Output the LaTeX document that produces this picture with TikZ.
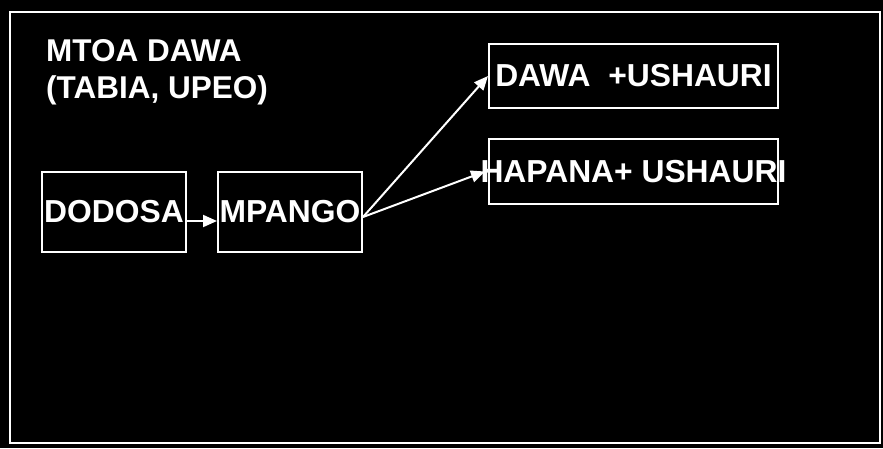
\documentclass[tikz,border=0pt]{standalone}
\usepackage{fontspec}
\setmainfont{Liberation Sans}
\usetikzlibrary{arrows.meta}
\tikzset{>={Triangle[length=14pt,width=12pt]}}
\begin{document}
\begin{tikzpicture}[x=1pt,y=1pt,
    box/.style={draw=white,line width=2pt,inner sep=0pt,minimum width=144pt,minimum height=80pt,text=white,font=\bfseries\fontsize{31.8}{36}\selectfont},
    wide/.style={box,minimum width=289pt,minimum height=64pt},
    title/.style={anchor=base west,inner sep=0pt,text=white,font=\bfseries\fontsize{31.5}{36}\selectfont},
    link/.style={->,draw=white,fill=white,line width=2pt}]
    \fill[black] (0,0) rectangle (883,448);
    \useasboundingbox (0,0) rectangle (883,448);
    \draw[white,line width=2pt] (10,5) rectangle (880,436);

    % heading
    \node[title] (mtoa) at (46,386) {MTOA DAWA};
    \node[title] (tabia) at (46,349) {(TABIA, UPEO)};

    % boxes
    \node[box] (dodosa) at (114,236) {DODOSA};
    \node[box] (mpango) at (290,236) {MPANGO};
    \node[wide] (dawa) at (633.5,372) {DAWA\ \ +USHAURI};
    \node[wide,minimum height=65pt] (hapana) at (633.5,276.5) {\makebox[289pt][c]{HAPANA+ USHAURI}};

    % dodosa to mpango
    \draw[link] ([yshift=-9pt]dodosa.east) -- ([yshift=-9pt]mpango.west);
    % mpango to dawa
    \draw[link] ([yshift=-5pt]mpango.east) -- (dawa.west);
    % mpango to hapana
    \draw[link] ([yshift=-5pt]mpango.east) -- ([xshift=-3pt]hapana.west);
\end{tikzpicture}
\end{document}
